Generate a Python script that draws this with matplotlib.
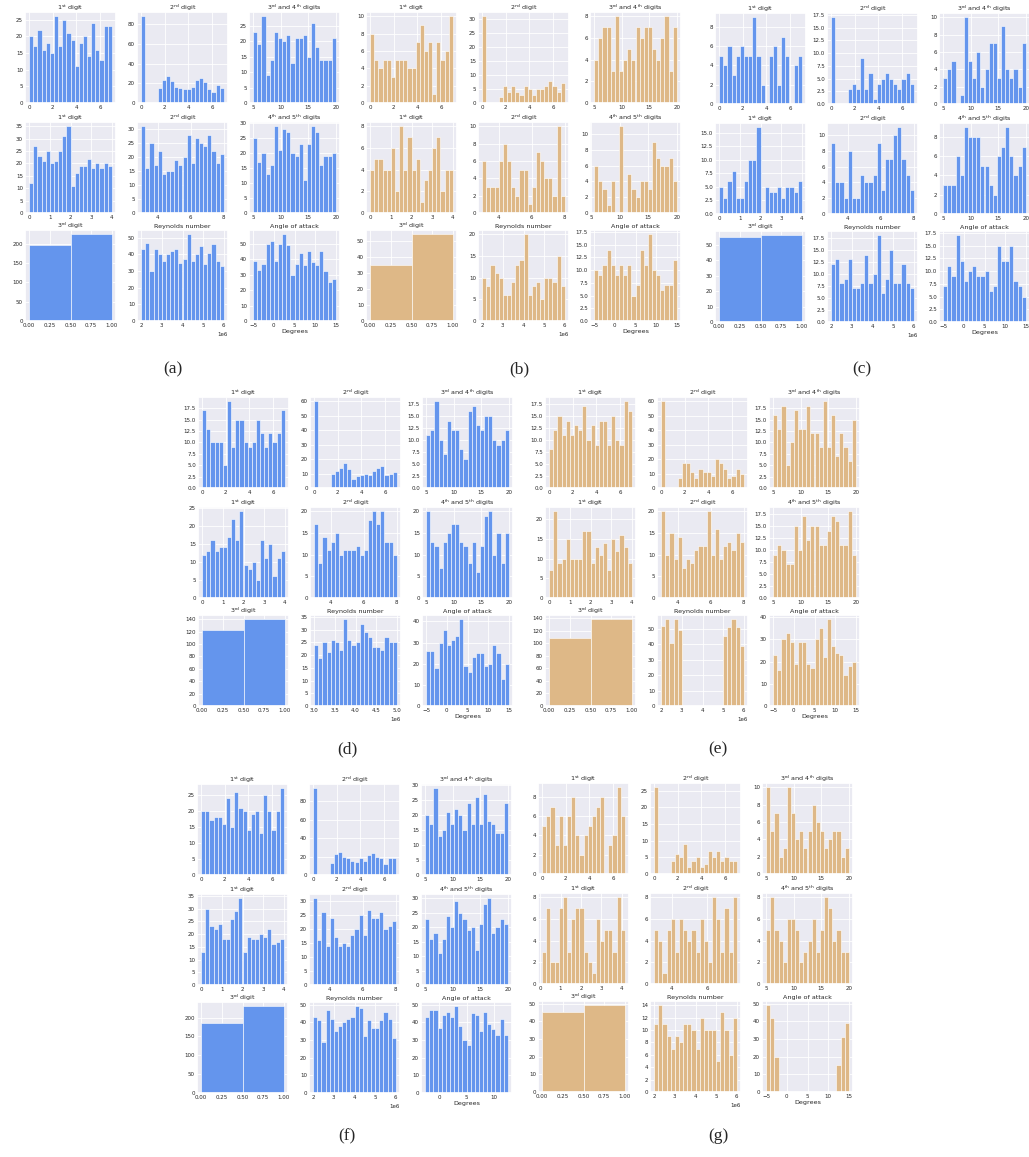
import numpy as np
import matplotlib
matplotlib.use("Agg")
import matplotlib.pyplot as plt
import seaborn as sns

sns.set_theme(style="darkgrid")
plt.rcParams['font.family'] = ['DejaVu Sans']

BLUE = "cornflowerblue"
ORANGE = "burlywood"

titles = [r"1$^{\mathrm{st}}$ digit", r"2$^{\mathrm{nd}}$ digit", r"3$^{\mathrm{rd}}$ and 4$^{\mathrm{th}}$ digits",
          r"1$^{\mathrm{st}}$ digit", r"2$^{\mathrm{nd}}$ digit", r"4$^{\mathrm{th}}$ and 5$^{\mathrm{th}}$ digits",
          r"3$^{\mathrm{rd}}$ digit", "Reynolds number", "Angle of attack"]

# default bin ranges per subplot (row-major)
default_ranges = [(0, 7), (0, 7), (5, 20),
                  (0, 4), (3, 8), (5, 20),
                  (0, 1), (2e6, 6e6), (-5, 15)]

# ---------------- panel (a) ----------------
a_d1 = [20, 17, 22, 16, 18, 15, 26, 17, 25, 21, 19, 11, 18, 20, 14, 24, 16, 13, 23, 23]
a_d2 = [88, 0, 0, 0, 15, 23, 27, 22, 16, 15, 14, 14, 16, 23, 25, 21, 14, 11, 18, 15]
a_d34 = [23, 19, 28, 9, 14, 23, 21, 20, 22, 13, 21, 21, 22, 15, 26, 18, 14, 14, 14, 21]
a_f1 = [12, 27, 23, 21, 25, 20, 21, 25, 31, 35, 11, 16, 19, 19, 22, 18, 20, 18, 20, 19]
a_f2 = [31, 16, 25, 17, 22, 14, 15, 15, 19, 17, 20, 28, 18, 27, 25, 24, 28, 22, 18, 21]
a_f45 = [25, 17, 20, 13, 16, 29, 21, 28, 27, 20, 19, 23, 11, 23, 29, 27, 16, 19, 19, 20]
a_f3 = [196, 224]
a_re = [43, 47, 30, 43, 40, 36, 40, 42, 43, 35, 37, 52, 36, 40, 45, 34, 41, 46, 36, 33]
a_aoa = [39, 33, 37, 50, 52, 39, 50, 56, 49, 30, 37, 44, 36, 45, 38, 36, 45, 32, 25, 27]

# ---------------- panel (b) ----------------
b_d1 = [8, 5, 4, 5, 5, 3, 5, 5, 5, 4, 4, 7, 9, 6, 7, 1, 7, 5, 6, 10]
b_d2 = [31, 0, 0, 0, 2, 6, 4, 6, 4, 3, 6, 5, 3, 5, 5, 6, 8, 6, 4, 7]
b_d34 = [4, 6, 7, 7, 3, 8, 3, 4, 5, 4, 7, 6, 7, 7, 5, 4, 6, 8, 3, 7]
b_f1 = [4, 5, 5, 4, 4, 6, 2, 8, 4, 7, 4, 5, 1, 3, 4, 6, 7, 2, 4, 4]
b_f2 = [6, 3, 3, 3, 6, 8, 6, 3, 2, 5, 5, 1, 3, 7, 6, 4, 4, 2, 10, 2]
b_f45 = [6, 4, 3, 1, 4, 0, 11, 0, 5, 3, 2, 4, 4, 3, 9, 7, 6, 6, 7, 4]
b_f3 = [35, 54]
b_re = [10, 8, 13, 11, 10, 6, 6, 9, 13, 14, 20, 6, 8, 9, 5, 10, 10, 9, 15, 8]
b_aoa = [10, 9, 11, 14, 11, 9, 11, 9, 11, 5, 7, 14, 11, 17, 10, 9, 6, 7, 7, 12]

# ---------------- panel (c) ----------------
c_d1 = [5, 4, 6, 3, 5, 6, 5, 5, 9, 5, 2, 0, 5, 6, 2, 7, 5, 0, 4, 5]
c_d2 = [17, 0, 0, 0, 3, 4, 3, 9, 3, 6, 1, 4, 5, 6, 5, 4, 3, 5, 6, 4]
c_d34 = [3, 4, 5, 0, 1, 10, 5, 3, 6, 2, 4, 7, 7, 3, 9, 4, 3, 4, 2, 7]
c_f1 = [5, 3, 6, 8, 3, 3, 6, 10, 10, 16, 0, 5, 4, 4, 5, 3, 5, 5, 4, 6]
c_f2 = [9, 4, 4, 2, 8, 2, 2, 5, 4, 4, 5, 9, 3, 7, 7, 10, 11, 7, 5, 3]
c_f45 = [3, 3, 3, 6, 4, 9, 8, 8, 8, 5, 5, 3, 2, 6, 7, 9, 6, 4, 5, 7]
c_f3 = [55, 56]
c_re = [12, 13, 8, 9, 13, 7, 7, 8, 14, 8, 10, 18, 6, 9, 15, 8, 8, 12, 8, 7]
c_aoa = [7, 11, 9, 17, 12, 8, 10, 11, 9, 9, 10, 6, 7, 15, 12, 12, 15, 8, 7, 5]

# ---------------- panel (d) ----------------
d_d1 = [17, 13, 10, 10, 10, 5, 19, 9, 15, 15, 10, 9, 10, 15, 12, 9, 12, 10, 12, 17]
d_d2 = [60, 0, 0, 0, 10, 12, 14, 17, 13, 6, 8, 9, 10, 9, 12, 14, 15, 9, 10, 11]
d_d34 = [11, 12, 18, 10, 7, 14, 12, 12, 8, 6, 16, 17, 13, 12, 15, 15, 10, 9, 10, 12]
d_f1 = [12, 13, 16, 13, 14, 14, 17, 22, 16, 24, 9, 8, 10, 5, 16, 11, 15, 6, 11, 13]
d_f2 = [17, 8, 14, 11, 13, 15, 10, 11, 11, 11, 12, 10, 11, 18, 20, 17, 20, 13, 13, 10]
d_f45 = [20, 13, 12, 7, 13, 15, 17, 17, 13, 12, 8, 13, 6, 12, 19, 20, 10, 15, 8, 15]
d_f3 = [123, 140]
d_re = [24, 19, 25, 21, 26, 25, 22, 34, 26, 24, 25, 32, 29, 27, 23, 23, 22, 27, 25, 25]
d_aoa = [26, 26, 18, 30, 36, 29, 31, 33, 41, 19, 16, 23, 25, 25, 19, 20, 29, 25, 13, 20]

# ---------------- panel (e) ----------------
e_d1 = [8, 12, 15, 11, 14, 11, 13, 12, 17, 10, 13, 9, 14, 14, 9, 15, 10, 9, 18, 16]
e_d2 = [60, 0, 0, 0, 7, 17, 17, 11, 7, 13, 11, 11, 8, 20, 17, 13, 7, 8, 13, 10]
e_d34 = [16, 13, 18, 5, 10, 17, 13, 13, 18, 12, 12, 9, 19, 9, 16, 7, 12, 9, 6, 15]
e_f1 = [7, 22, 9, 10, 15, 10, 10, 10, 17, 17, 9, 13, 11, 14, 7, 15, 12, 16, 13, 9]
e_f2 = [20, 10, 15, 9, 14, 7, 9, 8, 11, 12, 12, 20, 10, 16, 9, 12, 13, 11, 15, 13]
e_f45 = [9, 11, 10, 7, 7, 15, 10, 17, 12, 15, 15, 11, 11, 14, 17, 16, 11, 11, 18, 9]
e_f3 = [108, 138]
e_re = [52, 56, 41, 56, 49, 0, 0, 0, 0, 0, 0, 0, 0, 0, 0, 45, 51, 56, 51, 39]
e_aoa = [23, 16, 30, 33, 29, 19, 29, 29, 19, 17, 30, 35, 22, 39, 27, 24, 23, 14, 18, 20]

# ---------------- panel (f) ----------------
f_d1 = [20, 20, 17, 18, 18, 16, 24, 15, 26, 21, 20, 14, 19, 20, 13, 25, 20, 14, 20, 27]
f_d2 = [94, 0, 0, 0, 13, 23, 25, 20, 18, 15, 14, 18, 15, 22, 24, 20, 18, 12, 18, 18]
f_d34 = [20, 17, 29, 13, 15, 21, 17, 22, 20, 15, 24, 17, 26, 17, 27, 18, 17, 14, 14, 24]
f_f1 = [13, 30, 23, 22, 24, 18, 18, 26, 29, 34, 13, 19, 18, 18, 20, 19, 22, 16, 17, 18]
f_f2 = [31, 16, 26, 14, 24, 17, 14, 15, 14, 18, 20, 25, 18, 27, 24, 24, 26, 20, 21, 23]
f_f45 = [23, 16, 18, 11, 16, 24, 20, 29, 25, 23, 19, 20, 12, 21, 28, 30, 18, 20, 23, 21]
f_f3 = [186, 230]
f_re = [43, 41, 29, 47, 42, 35, 38, 40, 42, 43, 49, 48, 32, 41, 37, 37, 41, 46, 42, 31]
f_aoa = [43, 47, 47, 37, 44, 46, 43, 49, 38, 30, 27, 45, 44, 35, 46, 39, 36, 33, 42, 33]

# ---------------- panel (g) ----------------
g_d1 = [5, 6, 7, 3, 6, 3, 6, 8, 4, 2, 4, 5, 6, 7, 8, 0, 3, 4, 9, 6]
g_d2 = [26, 0, 0, 0, 4, 6, 5, 9, 2, 4, 5, 2, 3, 7, 5, 7, 4, 5, 4, 4]
g_d34 = [10, 5, 7, 2, 3, 10, 7, 4, 5, 3, 5, 8, 6, 5, 3, 4, 5, 5, 2, 3]
g_f1 = [3, 7, 2, 2, 7, 8, 3, 6, 7, 7, 3, 2, 1, 6, 4, 5, 5, 3, 8, 5]
g_f2 = [5, 4, 1, 5, 6, 3, 6, 5, 4, 5, 3, 6, 4, 2, 8, 6, 3, 7, 3, 8]
g_f45 = [5, 8, 5, 4, 2, 6, 6, 5, 2, 3, 4, 6, 3, 5, 8, 7, 4, 5, 3, 3]
g_f3 = [45, 49]
g_re = [11, 14, 11, 9, 7, 9, 8, 11, 11, 10, 7, 12, 10, 10, 10, 5, 13, 10, 6, 12]
g_aoa = [49, 42, 20, 0, 0, 0, 0, 0, 0, 0, 0, 0, 0, 0, 0, 0, 0, 15, 31, 39]

panels = [
    ("(a)", BLUE, [a_d1, a_d2, a_d34, a_f1, a_f2, a_f45, a_f3, a_re, a_aoa], {}),
    ("(b)", ORANGE, [b_d1, b_d2, b_d34, b_f1, b_f2, b_f45, b_f3, b_re, b_aoa], {5: (5.5, 20)}),
    ("(c)", BLUE, [c_d1, c_d2, c_d34, c_f1, c_f2, c_f45, c_f3, c_re, c_aoa], {}),
    ("(d)", BLUE, [d_d1, d_d2, d_d34, d_f1, d_f2, d_f45, d_f3, d_re, d_aoa], {7: (3e6, 5e6)}),
    ("(e)", ORANGE, [e_d1, e_d2, e_d34, e_f1, e_f2, e_f45, e_f3, e_re, e_aoa], {}),
    ("(f)", BLUE, [f_d1, f_d2, f_d34, f_f1, f_f2, f_f45, f_f3, f_re, f_aoa], {8: (-2.5, 12.5)}),
    ("(g)", ORANGE, [g_d1, g_d2, g_d34, g_f1, g_f2, g_f45, g_f3, g_re, g_aoa], {3: (0.1, 4.15), 4: (3.0, 7.7)}),
]

# layout (pixels): origin of top-left axes, caption position
W, H = 1029, 1157
origins = [(25, 12), (366, 12), (715, 13), (198, 397), (545, 397), (197, 784), (538, 783)]
captions = [(173, 369), (519, 369), (862, 369), (347, 749), (718, 749), (347, 1136), (718, 1136)]
col_off = [0, 112, 224]
row_off = [0, 110, 218]
AW, AH = 91, 91

fig = plt.figure(figsize=(W / 100, H / 100), dpi=100)

for p, (label, color, datasets, overrides) in enumerate(panels):
    x0, y0 = origins[p]
    for k in range(9):
        r, c = divmod(k, 3)
        left = (x0 + col_off[c]) / W
        top = (y0 + row_off[r]) / H
        ax = fig.add_axes([left, 1 - top - AH / H, AW / W, AH / H])
        counts = np.asarray(datasets[k], dtype=float)
        lo, hi = overrides.get(k, default_ranges[k])
        edges = np.linspace(lo, hi, len(counts) + 1)
        centers = (edges[:-1] + edges[1:]) / 2
        ax.hist(centers, bins=edges, weights=counts, color=color,
                edgecolor="white", linewidth=0.4)
        ax.set_title(titles[k], fontsize=4.6, pad=1.5)
        ax.tick_params(labelsize=4, pad=1.5, length=0)
        ax.grid(linewidth=0.6)
        ax.xaxis.get_offset_text().set_fontsize(4)
        if k == 8:
            ax.set_xlabel("Degrees", fontsize=4.6, labelpad=1)
    cx, cy = captions[p]
    fig.text(cx / W, 1 - cy / H, label, ha="center", va="center",
             fontsize=12.5, family=["Liberation Serif", "DejaVu Serif"])

fig.savefig("out.png", dpi=100, facecolor="white")
